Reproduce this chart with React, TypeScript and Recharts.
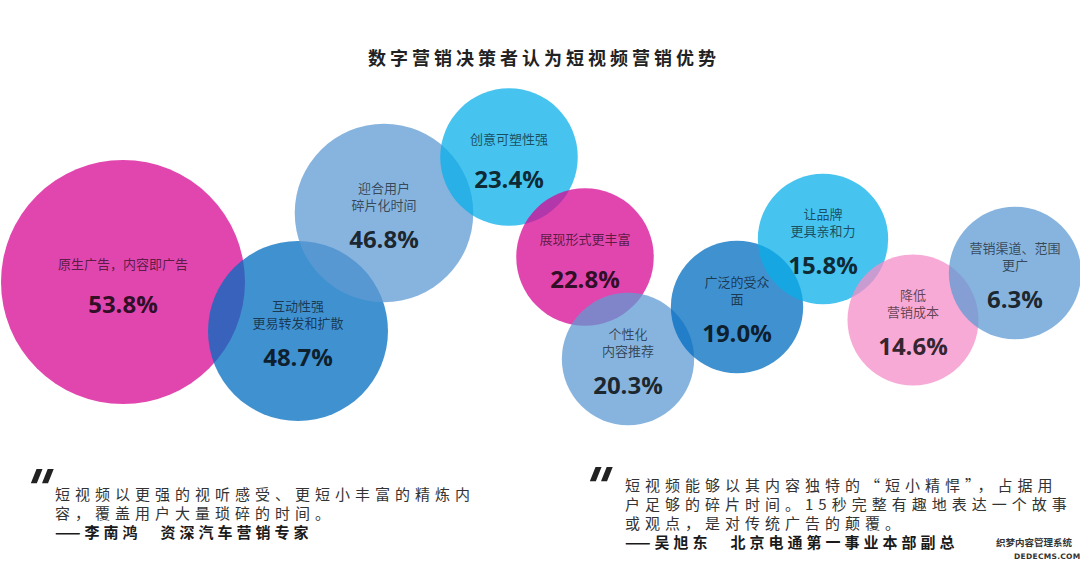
import React from 'react';
import { ScatterChart, Scatter, XAxis, YAxis, ZAxis } from 'recharts';

// ---- data ----
const categories = [
  '原生广告，内容即广告',
  '互动性强\n更易转发和扩散',
  '迎合用户\n碎片化时间',
  '创意可塑性强',
  '展现形式更丰富',
  '个性化\n内容推荐',
  '广泛的受众\n面',
  '让品牌\n更具亲和力',
  '降低\n营销成本',
  '营销渠道、范围\n更广',
];
const values = [53.8, 48.7, 46.8, 23.4, 22.8, 20.3, 19.0, 15.8, 14.6, 6.3];
const bubbleX = [123, 298, 384, 509, 585, 628, 737, 823, 913, 1015];
const bubbleY = [282, 331, 213, 157, 257, 359, 307, 239, 320, 273];
const bubbleWeight = [3.4, 1.85, 1.82, 1.08, 1.08, 1.0, 1.0, 0.97, 0.98, 1.0];
const bubbleColors = ['#D70894', '#006CC0', '#5F9BD3', '#08AFEA', '#D70894', '#5F9BD3', '#006CC0', '#08AFEA', '#F48EC7', '#5F9BD3'];

const title = '数字营销决策者认为短视频营销优势';
const quoteLeft = [
  '短视频以更强的视听感受、更短小丰富的精炼内',
  '容，覆盖用户大量琐碎的时间。',
];
const authorLeft = '——李南鸿　资深汽车营销专家';
const quoteRight = [
  '短视频能够以其内容独特的“短小精悍”，占据用',
  '户足够的碎片时间。15秒完整有趣地表达一个故事',
  '或观点，是对传统广告的颠覆。',
];
const authorRight = '——吴旭东　北京电通第一事业本部副总';
const watermark = ['织梦内容管理系统', 'DEDECMS.COM'];

const chartData = categories.map((c, i) => ({
  name: c,
  value: values[i],
  x: bubbleX[i],
  y: bubbleY[i],
  z: bubbleWeight[i],
  color: bubbleColors[i],
}));

const W = 1080;
const H = 569;
const CJK = '"Noto Sans CJK SC", "Noto Sans", sans-serif';

const BubbleShape = (props: any) => {
  const { cx, cy, payload, size, width } = props;
  const r = width ? width / 2 : Math.sqrt(Math.max(size || 0, 0) / Math.PI);
  return <circle cx={cx} cy={cy} r={r} fill={payload.color} fillOpacity={0.75} />;
};

const LabelShape = (props: any) => {
  const { cx, cy, payload } = props;
  const lines: string[] = String(payload.name).split('\n');
  const n = lines.length;
  const lineYs = n === 1 ? [cy - 19] : [cy - 26, cy - 9];
  const valueY = n === 1 ? cy + 21 : cy + 25;
  return (
    <g>
      {lines.map((l, i) => (
        <text
          key={i}
          x={cx}
          y={lineYs[i]}
          textAnchor="middle"
          dominantBaseline="central"
          fontFamily={CJK}
          fontSize={13}
          fill="#000"
          fillOpacity={0.62}
        >
          {l}
        </text>
      ))}
      <text
        x={cx}
        y={valueY}
        textAnchor="middle"
        dominantBaseline="central"
        fontFamily='"Open Sans", "DejaVu Sans", sans-serif'
        fontWeight={700}
        fontSize={24}
        fill="#000"
        fillOpacity={0.8}
      >
        {payload.value.toFixed(1)}%
      </text>
    </g>
  );
};

const lineStyle = (top: number, left: number, bold = false): React.CSSProperties => ({
  position: 'absolute',
  top: top - 10,
  left,
  height: 20,
  lineHeight: '20px',
  fontFamily: CJK,
  fontSize: 15,
  fontWeight: bold ? 700 : 400,
  letterSpacing: bold ? 4 : 5,
  color: bold ? '#1a1a1a' : '#333',
  whiteSpace: 'pre',
});

const quoteMark = (top: number, left: number): React.CSSProperties => ({
  position: 'absolute',
  top,
  left,
  fontFamily: '"DejaVu Sans", sans-serif',
  fontWeight: 900,
  fontSize: 52,
  lineHeight: '52px',
  color: '#222',
  transform: 'skewX(-22deg)',
  transformOrigin: 'left top',
});

export default function App() {
  return (
    <div style={{ position: 'absolute', left: 0, top: 0, width: W, height: H, background: '#fff', overflow: 'hidden' }}>
      <ScatterChart width={W} height={H} margin={{ top: 0, right: 0, bottom: 0, left: 0 }}>
        <XAxis type="number" dataKey="x" domain={[0, W]} hide />
        <YAxis type="number" dataKey="y" domain={[0, H]} reversed hide />
        <ZAxis type="number" dataKey="z" domain={[0, 3.4]} range={[0, 46760]} />
        <Scatter data={chartData} shape={BubbleShape} isAnimationActive={false} />
        <Scatter data={chartData} shape={LabelShape} isAnimationActive={false} />
      </ScatterChart>

      <div
        style={{
          position: 'absolute',
          top: 45,
          left: 0,
          width: W,
          textAlign: 'center',
          fontFamily: CJK,
          fontWeight: 700,
          fontSize: 18,
          letterSpacing: 4,
          lineHeight: '24px',
          color: '#222',
          paddingLeft: 4,
        }}
      >
        {title}
      </div>

      <div style={quoteMark(463, 34)}>"</div>
      {quoteLeft.map((l, i) => (
        <div key={i} style={lineStyle(494 + i * 19, 55)}>
          {l}
        </div>
      ))}
      <div style={lineStyle(494 + 2 * 19, 55, true)}>{authorLeft}</div>

      <div style={quoteMark(461, 593)}>"</div>
      {quoteRight.map((l, i) => (
        <div key={i} style={lineStyle(485 + i * 19, 625)}>
          {l}
        </div>
      ))}
      <div style={lineStyle(485 + 3 * 19, 625, true)}>{authorRight}</div>

      <div
        style={{
          position: 'absolute',
          top: 536,
          left: 994,
          fontFamily: CJK,
          fontWeight: 700,
          fontSize: 9.5,
          lineHeight: '13px',
          color: '#333',
          background: '#fff',
          padding: '0 2px',
          whiteSpace: 'nowrap',
        }}
      >
        {watermark[0]}
      </div>
      <div
        style={{
          position: 'absolute',
          top: 551,
          left: 1014,
          fontFamily: '"DejaVu Sans", sans-serif',
          fontWeight: 700,
          fontSize: 7.5,
          letterSpacing: 0.3,
          lineHeight: '11px',
          color: '#333',
          whiteSpace: 'nowrap',
        }}
      >
        {watermark[1]}
      </div>
    </div>
  );
}
